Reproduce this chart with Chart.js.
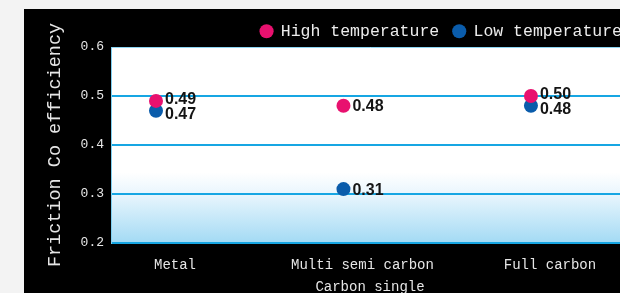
<!DOCTYPE html>
<html>
<head>
<meta charset="utf-8">
<script src="https://cdn.jsdelivr.net/npm/chart.js@4"></script>
<style>
  html, body { margin: 0; padding: 0; }
  body { width: 620px; height: 293px; overflow: hidden; background: #f3f3f3; position: relative; }
  #frictionChart { position: absolute; left: 24px; top: 9px; background: #000; }
</style>
</head>
<body>
<canvas id="frictionChart" width="612" height="291"></canvas>
<script>
// chart data
const categories = ["Metal", "Multi semi carbon", "Full carbon"];
const highTemp = [0.49, 0.48, 0.50];
const lowTemp = [0.47, 0.31, 0.48];
const yTicks = [0.2, 0.3, 0.4, 0.5, 0.6];

const monoFont = '"Liberation Mono", "DejaVu Sans Mono", monospace';

const toPoints = (values) => values.map((v, i) => ({ x: i, y: v }));

// white -> light blue fill behind the grid
const plotBackground = {
  id: "plotBackground",
  beforeDraw(chart) {
    const { ctx, chartArea: a } = chart;
    const grad = ctx.createLinearGradient(0, a.top, 0, a.bottom);
    grad.addColorStop(0, "#ffffff");
    grad.addColorStop(0.64, "#ffffff");
    grad.addColorStop(0.75, "#e9f6fd");
    grad.addColorStop(1, "#a3daf4");
    ctx.save();
    ctx.fillStyle = grad;
    ctx.fillRect(a.left, a.top, a.right - a.left, a.bottom - a.top);
    ctx.restore();
  }
};

// numbers next to each point; close pairs get pulled apart so they don't overlap
const valueLabels = {
  id: "valueLabels",
  afterDatasetsDraw(chart) {
    const { ctx } = chart;
    const nudge = [-2, 3];
    const metas = [chart.getDatasetMeta(0), chart.getDatasetMeta(1)];
    ctx.save();
    ctx.font = 'bold 16px "Liberation Sans", Arial, sans-serif';
    ctx.fillStyle = "#151515";
    ctx.textBaseline = "middle";
    ctx.textAlign = "left";
    chart.data.datasets.forEach((ds, i) => {
      metas[i].data.forEach((pt, j) => {
        const other = metas[1 - i].data[j];
        const dy = Math.abs(other.y - pt.y) < 14 ? nudge[i] : 0;
        ctx.fillText(ds.data[j].y.toFixed(2), pt.x + 9, pt.y + 1 + dy);
      });
    });
    ctx.restore();
  }
};

// legend sits a bit closer to the plot than chart.js allows by default
const legendTighten = {
  id: "legendTighten",
  beforeInit(chart) {
    const fit = chart.legend.fit;
    chart.legend.fit = function () {
      fit.call(this);
      this.height -= 2.5;
    };
  }
};

const ctx = document.getElementById("frictionChart").getContext("2d");

new Chart(ctx, {
  type: "scatter",
  data: {
    datasets: [
      {
        label: "High temperature",
        data: toPoints(highTemp),
        backgroundColor: "#e8116f",
        borderColor: "#e8116f",
        pointRadius: 7,
        pointHoverRadius: 7,
        borderWidth: 0
      },
      {
        label: "Low temperature",
        data: toPoints(lowTemp),
        backgroundColor: "#0a5cab",
        borderColor: "#0a5cab",
        pointRadius: 7,
        pointHoverRadius: 7,
        borderWidth: 0
      }
    ]
  },
  options: {
    responsive: false,
    animation: false,
    layout: { padding: 0 },
    plugins: {
      tooltip: { enabled: false },
      legend: {
        display: true,
        position: "top",
        align: "end",
        labels: {
          usePointStyle: true,
          pointStyle: "circle",
          boxWidth: 12,
          boxHeight: 10,
          padding: 14,
          color: "#ececec",
          font: { family: monoFont, size: 16.5 }
        }
      }
    },
    scales: {
      x: {
        type: "linear",
        min: -0.24,
        max: 2.523,
        grid: { display: false, drawTicks: false },
        border: { display: false },
        afterBuildTicks: (scale) => {
          scale.ticks = categories.map((c, i) => ({ value: i }));
        },
        ticks: {
          padding: 14,
          labelOffset: 19,
          color: "#e6e6e6",
          font: { family: monoFont, size: 14 },
          callback: (v) => categories[v] ?? ""
        },
        title: {
          display: true,
          text: "Carbon single",
          color: "#e6e6e6",
          font: { family: monoFont, size: 14 },
          padding: { top: 4, bottom: 4.6 }
        },
        afterFit: (scale) => { scale.height = 57; }
      },
      y: {
        type: "linear",
        min: yTicks[0],
        max: yTicks[yTicks.length - 1],
        grid: {
          drawTicks: false,
          color: (c) => (c.index === yTicks.length - 1 ? "#8cd5f2" : "#16a6e3"),
          lineWidth: (c) => (c.index === yTicks.length - 1 ? 1 : 2)
        },
        border: { display: true, color: "#7fcff0", width: 1 },
        afterBuildTicks: (scale) => {
          scale.ticks = yTicks.map((v) => ({ value: v }));
        },
        ticks: {
          padding: 7,
          color: "#e6e6e6",
          font: { family: monoFont, size: 13 },
          callback: (v) => v.toFixed(1)
        },
        title: {
          display: true,
          text: "Friction Co efficiency",
          color: "#e6e6e6",
          font: { family: monoFont, size: 18.5 },
          padding: { top: 20, bottom: 4 }
        },
        afterFit: (scale) => { scale.width = 87; }
      }
    }
  },
  plugins: [plotBackground, valueLabels, legendTighten]
});
</script>
</body>
</html>
